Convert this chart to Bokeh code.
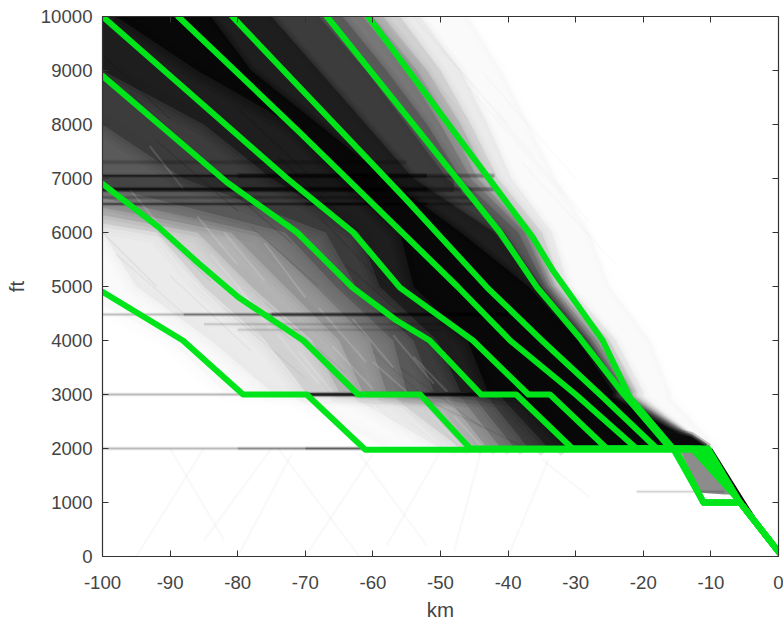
from bokeh.plotting import figure
from bokeh.models import LinearAxis, FixedTicker, Range1d
from bokeh.embed import file_html
from bokeh.resources import INLINE

x_ticks = [-100, -90, -80, -70, -60, -50, -40, -30, -20, -10, 0]
x_tick_labels = ["-100", "-90", "-80", "-70", "-60", "-50", "-40", "-30", "-20", "-10", "0"]
y_ticks = [0, 1000, 2000, 3000, 4000, 5000, 6000, 7000, 8000, 9000, 10000]
y_tick_labels = ["0", "1000", "2000", "3000", "4000", "5000", "6000", "7000", "8000", "9000", "10000"]

# Green profiles
a_km = [-100, -88.1, -79.2, -69.8, -61.1, -10.4, -5.7, 0]
a_ft = [4900, 4000, 3000, 3000, 1975, 1975, 1000, 90]
b_km = [-100, -91.7, -85.8, -79.9, -70.3, -62.2, -53, -45.6, -10.4, -5.7, 0]
b_ft = [6900, 6100, 5430, 4800, 4000, 3000, 3000, 2000, 2000, 1000, 90]
c_km = [-100, -81.6, -71.2, -63, -56.5, -51.6, -44, -38.8, -30.5, -11.6, -5.7, 0]
c_ft = [8900, 6930, 6000, 4980, 4370, 4000, 3000, 3000, 2000, 2000, 1000, 90]
d_km = [-100, -72.7, -62.9, -56, -45.2, -37, -33.8, -25.4, -12.8, -6.3, 0]
d_ft = [10000, 7000, 6000, 4980, 4000, 3000, 3000, 2000, 2000, 1100, 90]
e_km = [-88.8, -70.8, -56, -47.5, -39.7, -30, -21, -15.3, -11.1, -5.7, 0]
e_ft = [10000, 7850, 6040, 5000, 4000, 3000, 2000, 2000, 1000, 1000, 90]
f_km = [-80.8, -55, -43.1, -35, -26.4, -18, -15.3, -11.1, -5.7, 0]
f_ft = [10000, 6600, 4980, 4000, 3000, 2000, 2000, 1000, 1000, 90]
g_km = [-66.8, -41.2, -35.7, -29.4, -23, -16, -15.3, -11.1, -5.7, 0]
g_ft = [10000, 6000, 4980, 4050, 3020, 2000, 2000, 1000, 1000, 90]
h_km = [-60.7, -36.3, -33.4, -26, -22, -15.6, -11.1, -5.7, 0]
h_ft = [10000, 5900, 5300, 4000, 2950, 2000, 1000, 1000, 90]

# Density of the track cloud: grey level, then its left and right limit at each altitude
density_ft = [10000, 9000, 8000, 7000, 6000, 5000, 4000, 3050, 2950, 2000]
density_grey = [250, 235, 210, 180, 150, 120, 90, 60, 30, 8]
density_left = [
    [-160, -160, -160, -160, -130, -105, -90, -82, -72, -58],
    [-160, -160, -160, -150, -100, -95, -84, -75, -63, -50],
    [-160, -160, -160, -140, -92, -85, -76, -70, -57, -47],
    [-160, -160, -160, -130, -86, -78, -69, -65, -52, -45],
    [-160, -160, -160, -122, -81, -73, -65, -61.5, -49, -43],
    [-160, -160, -160, -113, -77, -68.5, -60.5, -58, -47, -41],
    [-160, -160, -125, -104, -73, -65.5, -57, -55, -45, -39],
    [-160, -110, -100, -88, -67, -62.5, -54, -51, -43, -37],
    [-116, -100, -85, -75, -62, -59, -50.5, -47, -41, -34],
    [-98, -86, -72, -64, -56, -54, -46, -43, -38, -31],
]
density_right = [
    [-46, -41, -37, -33, -28, -25, -19, -16, -16, -9],
    [-53, -47, -43, -39.5, -33.5, -31, -24, -20, -20, -11],
    [-56, -50, -45.5, -41.5, -35, -32, -25, -21, -21, -11],
    [-58.5, -52, -47, -43, -36.5, -33, -26, -21.5, -21.5, -11],
    [-60, -53.5, -48.5, -44.5, -37, -33.5, -26.8, -22, -22, -11],
    [-61.5, -55, -50, -45.5, -37.5, -34, -27.5, -22.5, -22.5, -11],
    [-64.5, -58, -52, -47, -38.5, -34.5, -28, -23, -23, -11],
    [-68, -61, -55, -49, -40.5, -35, -28.5, -23.5, -23.5, -11],
    [-75, -68, -61, -54, -42, -36, -29, -24, -24, -11],
    [-84, -78, -68, -58, -47, -37, -29.7, -24.5, -24.5, -11],
]

# Shelf just above 2000 ft and the final descent
shelf_km = [-20, -18, -13, -10.4, -10.4]
shelf_ft = [2000, 2330, 2220, 2000, 1950]
descent_km = [-11, -9.8, -4.8, 0, 0, -5.5]
descent_ft = [2000, 2000, 1000, 60, 0, 950]
descent_grey_km = [-14.5, -10.5, -6.6, -8, -11.5]
descent_grey_ft = [1950, 1950, 1150, 1150, 1180]

# Level-off streaks: altitude, start, end, opacity, width
level_ft = [6900, 7050, 7050, 7050, 6800, 6800, 6800, 6530, 6530, 6530, 6650, 7300,
            4480, 4480, 4480, 4300, 4200, 3000, 3000, 3000, 2000, 2000, 2000, 1200]
level_from = [-100, -100, -80, -52, -100, -80, -52, -100, -70, -52, -100, -100,
              -100, -88, -75, -85, -80, -100, -79, -70, -100, -80, -70, -21]
level_to = [-48, -80, -52, -42, -80, -52, -42, -70, -52, -44, -45, -55,
            -88, -75, -40, -48, -50, -79, -70, -44, -80, -70, -61, -8]
level_alpha = [0.18, 0.6, 0.7, 0.25, 0.7, 0.7, 0.25, 0.5, 0.6, 0.2, 0.2, 0.15,
               0.2, 0.45, 0.7, 0.12, 0.1, 0.22, 0.5, 0.95, 0.22, 0.4, 0.6, 0.18]
level_width = [16, 1.5, 3, 3, 2.5, 3, 3, 1.5, 2, 2, 2, 3,
               1.5, 1.5, 2, 1.5, 1.5, 1.5, 1.5, 2.5, 1.5, 1.5, 1.5, 0.8]

# Individual faint tracks inside the cloud
track_km = [
    [-100, -92], [-98, -88], [-94, -84], [-90, -78], [-86, -72], [-82, -70], [-76, -64],
    [-100, -90], [-96, -84], [-88, -76], [-80, -68], [-74, -62], [-68, -58], [-64, -54],
    [-58, -46], [-54, -40], [-50, -36], [-46, -32], [-42, -28], [-38, -24], [-60, -50],
    [-56, -44], [-52, -38], [-44, -30], [-56, -48], [-92, -80], [-84, -72], [-78, -68],
]
track_ft = [
    [6000, 5000], [5600, 4500], [6300, 5100], [5200, 3800], [5500, 4000], [4600, 3300], [4700, 3400],
    [9300, 8100], [8600, 7200], [9800, 8300], [8300, 6900], [7400, 6000], [6300, 5000], [5400, 4300],
    [9800, 8100], [10000, 8000], [9400, 7400], [8700, 6700], [8200, 6200], [7300, 5400], [3800, 2700],
    [3500, 2400], [2900, 2050], [9000, 7000], [8200, 7100], [7700, 6400], [7100, 5800], [6100, 5000],
]
track_alpha = [
    0.05, 0.04, 0.05, 0.04, 0.05, 0.04, 0.05,
    0.1, 0.1, 0.12, 0.1, 0.12, 0.1, 0.1,
    0.03, 0.03, 0.03, 0.03, 0.03, 0.03, 0.06,
    0.08, 0.08, 0.03, 0.06, 0.12, 0.12, 0.08,
]

# Pale tracks showing through the grey part of the cloud
pale_km = [
    [-92, -87], [-88, -82], [-84, -78], [-80, -75], [-78, -71], [-74, -68], [-71, -66], [-68, -61],
    [-66, -60], [-63, -57], [-60, -55], [-57, -51], [-54, -49], [-76, -70], [-82, -76], [-86, -80],
    [-96, -90], [-93, -88], [-72, -66], [-69, -64], [-60, -54], [-56, -50], [-52, -47], [-48, -44],
]
pale_ft = [
    [5900, 5100], [5300, 4500], [5600, 4700], [5000, 4200], [4300, 3200], [4100, 3200], [3800, 3050], [4600, 3600],
    [3900, 3100], [4400, 3500], [3600, 3050], [4100, 3200], [3700, 3050], [5800, 4800], [6000, 5100], [6300, 5400],
    [6800, 5900], [7600, 6800], [2900, 2100], [2800, 2100], [2800, 2050], [2750, 2050], [2700, 2050], [2600, 2050],
]

# Very faint tracks below the 2000 ft floor
low_km = [[-95, -85], [-90, -82], [-85, -75], [-80, -72], [-74, -62], [-70, -60], [-62, -52], [-58, -50], [-48, -44], [-40, -34], [-35, -28]]
low_ft = [[0, 2000], [2000, 300], [300, 2000], [0, 1900], [2000, 0], [0, 1900], [1900, 200], [200, 1950], [100, 1950], [0, 1800], [1800, 1100]]

p = figure(width=783, height=620, output_backend="svg", toolbar_location=None,
           x_range=Range1d(-100, 0), y_range=Range1d(0, 10000),
           frame_width=676, frame_height=540,
           min_border_left=102, min_border_right=5, min_border_top=16, min_border_bottom=64)
p.background_fill_color = "white"
p.outline_line_color = None
p.grid.visible = False

for k, t in zip(low_km, low_ft):
    p.line(k, t, line_color="black", line_alpha=0.022, line_width=2.5)

for grey, left, right in zip(density_grey, density_left, density_right):
    xs = left + right[::-1]
    ys = density_ft + density_ft[::-1]
    c = "#%02x%02x%02x" % (grey, grey, grey)
    p.patch(xs, ys, fill_color=c, line_color=None)
    # soft edges, because the cloud has no hard contour
    for w, al in [(22, 0.10), (14, 0.13), (7, 0.2)]:
        p.line(left, density_ft, line_color=c, line_alpha=al, line_width=w, line_join="round")
        p.line(right, density_ft, line_color=c, line_alpha=al, line_width=w * 0.5, line_join="round")

for w, al in [(10, 0.25), (6, 0.35), (3, 0.5)]:
    p.line(shelf_km[:4], shelf_ft[:4], line_color="#111111", line_alpha=al, line_width=w, line_join="round")
p.patch(shelf_km, shelf_ft, fill_color="#0a0a0a", line_color=None)
p.patch(descent_grey_km, descent_grey_ft, fill_color="#8c8c8c", line_color=None)
p.patch(descent_km, descent_ft, fill_color="#060606", line_color=None)

for k, t, al in zip(track_km, track_ft, track_alpha):
    p.line(k, t, line_color="black" if al > 0.035 else "#888888", line_alpha=al, line_width=1.5)
for k, t in zip(pale_km, pale_ft):
    p.line(k, t, line_color="white", line_alpha=0.14, line_width=2)

for t, k0, k1, al, w in zip(level_ft, level_from, level_to, level_alpha, level_width):
    for extra, share in [(3, 0.2), (1.5, 0.3), (0, 0.8)]:
        p.line([k0, k1], [t, t], line_color="black", line_alpha=al * share, line_width=w + extra)

for k, t in [(a_km, a_ft), (b_km, b_ft), (c_km, c_ft), (d_km, d_ft),
             (e_km, e_ft), (f_km, f_ft), (g_km, g_ft), (h_km, h_ft)]:
    p.line(k, t, line_color="#00e51a", line_width=6, line_join="round", line_cap="round")

AX = "#333333"
TXT = "#444444"
FONT = "Liberation Sans"

def style(ax, labels=True):
    ax.axis_line_color = AX
    ax.axis_line_width = 1.2
    ax.major_tick_line_color = AX
    ax.major_tick_in = 6
    ax.major_tick_out = 0
    ax.minor_tick_line_color = None
    if labels:
        ax.major_label_text_font = FONT
        ax.major_label_text_font_size = "18.6px"
        ax.major_label_text_color = TXT
        ax.axis_label_text_font = FONT
        ax.axis_label_text_font_size = "20.5px"
        ax.axis_label_text_font_style = "normal"
        ax.axis_label_text_color = TXT

xa = p.xaxis[0]
xa.ticker = FixedTicker(ticks=x_ticks)
xa.major_label_overrides = {t: l for t, l in zip(x_ticks, x_tick_labels)}
xa.axis_label = "km"
style(xa)
xa.major_label_standoff = 19
xa.axis_label_standoff = 6

ya = p.yaxis[0]
ya.ticker = FixedTicker(ticks=y_ticks)
ya.major_label_overrides = {t: l for t, l in zip(y_ticks, y_tick_labels)}
ya.axis_label = "ft"
style(ya)
ya.major_label_standoff = 10
ya.axis_label_standoff = 10

top = LinearAxis(ticker=FixedTicker(ticks=x_ticks), major_label_overrides={t: "" for t in x_ticks}, major_label_standoff=0)
style(top, labels=False)
right = LinearAxis(ticker=FixedTicker(ticks=y_ticks), major_label_overrides={t: "" for t in y_ticks}, major_label_standoff=0)
style(right, labels=False)
p.add_layout(top, "above")
p.add_layout(right, "right")

open("out.html", "w").write(file_html(p, INLINE))
